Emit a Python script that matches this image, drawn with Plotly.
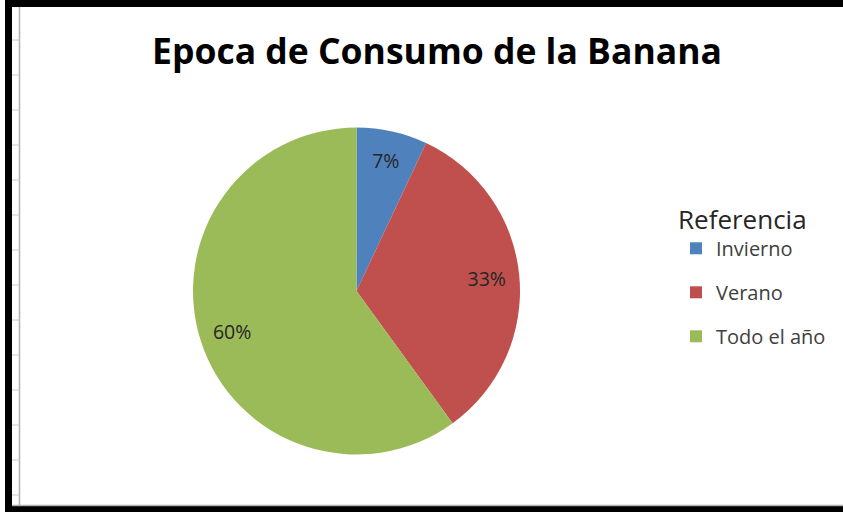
import plotly.graph_objects as go

labels = ["Invierno", "Verano", "Todo el año"]
values = [7, 33, 60]
colors = ["#4F81BD", "#C0504D", "#9BBB59"]
title_text = "Epoca de Consumo de la Banana"
legend_title = "Referencia"

W, H = 843, 512
FONT = "Open Sans, sans-serif"
pie_domain = dict(x=[193 / W, 520 / W], y=[1 - 455 / H, 1 - 127 / H])

fig = go.Figure()
# filled pie
fig.add_trace(go.Pie(
    labels=labels, values=values, sort=False, direction="clockwise", rotation=0,
    marker=dict(colors=colors, line=dict(width=0)),
    textinfo="none", showlegend=False, hoverinfo="label+percent",
    domain=pie_domain,
))
# transparent ring carrying the percentage labels (places them at ~0.8 R like Excel)
fig.add_trace(go.Pie(
    labels=labels, values=values, sort=False, direction="clockwise", rotation=0,
    hole=0.6, marker=dict(colors=["rgba(0,0,0,0)"] * len(values), line=dict(width=0)),
    texttemplate="%{percent:.0%}", textposition="inside",
    insidetextorientation="horizontal",
    textfont=dict(family=FONT, size=19.5, color="#262626"),
    showlegend=False, hoverinfo="skip",
    domain=pie_domain,
))
for lab, col in zip(labels, colors):
    fig.add_trace(go.Scatter(
        x=[None], y=[None], mode="markers", name=lab, legendgroup=lab,
        marker=dict(symbol="square", size=12, color=col),
    ))

shapes = [
    dict(type="rect", xref="paper", yref="paper", x0=5 / W, x1=12 / W, y0=0, y1=1,
         fillcolor="black", line=dict(width=0)),
    dict(type="rect", xref="paper", yref="paper", x0=5 / W, x1=1, y0=1 - 7 / H, y1=1,
         fillcolor="black", line=dict(width=0)),
    dict(type="rect", xref="paper", yref="paper", x0=5 / W, x1=1, y0=0, y1=6 / H,
         fillcolor="black", line=dict(width=0)),
    dict(type="line", xref="paper", yref="paper", x0=19.5 / W, x1=19.5 / W, y0=6 / H, y1=1 - 7 / H,
         line=dict(color="#B0B0B0", width=1.5)),
    dict(type="line", xref="paper", yref="paper", x0=12 / W, x1=1, y0=1 - 505.5 / H, y1=1 - 505.5 / H,
         line=dict(color="#B0B0B0", width=1.5)),
]
for k in range(14):
    yy = 40 + 35 * k
    shapes.append(dict(type="line", xref="paper", yref="paper", x0=12 / W, x1=20 / W,
                       y0=1 - yy / H, y1=1 - yy / H, line=dict(color="#C8C8C8", width=1)))

fig.update_layout(
    width=W, height=H, margin=dict(l=0, r=0, t=0, b=0),
    paper_bgcolor="white", plot_bgcolor="white",
    title=dict(text=f"<b>{title_text}</b>", x=437 / W, xanchor="center",
               y=1 - 52 / H, yanchor="middle",
               font=dict(family=FONT, size=35.5, color="#000000")),
    xaxis=dict(visible=False), yaxis=dict(visible=False),
    legend=dict(x=676 / W, y=1 - 195 / H, xanchor="left", yanchor="top",
                title=dict(text=legend_title, font=dict(family=FONT, size=26, color="#262626")),
                font=dict(family=FONT, size=20, color="#404040"),
                tracegroupgap=15, itemwidth=30, bgcolor="rgba(0,0,0,0)"),
    shapes=shapes,
)
fig.write_html("out.html")
